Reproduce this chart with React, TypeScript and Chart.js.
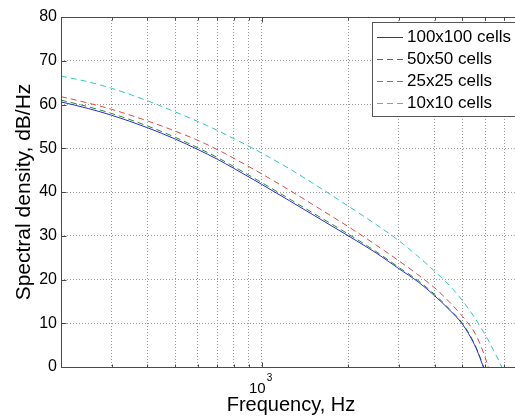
import React, { useEffect, useRef } from "react";
import { Chart, registerables } from "chart.js";

Chart.register(...registerables);

const FREQS = [200, 250, 300, 400, 500, 600, 700, 800, 1000, 1250, 1500, 2000, 2500, 3000, 3500, 4000, 4500, 5000, 5500, 5750, 6000, 6250, 6500, 6750, 7000];
const SERIES_LABELS = ["100x100 cells", "50x50 cells", "25x25 cells", "10x10 cells"];
const CELLS_100 = [60.6, 59.05, 57.55, 54.7, 52.1, 49.7, 47.5, 45.4, 41.75, 38.0, 34.9, 30.0, 26.1, 22.5, 19.5, 16.3, 13.1, 9.8, 5.2, 2.2, -1.2];
const CELLS_50 = [61.0, 59.45, 57.95, 55.1, 52.5, 50.1, 47.9, 45.8, 42.15, 38.4, 35.3, 30.4, 26.4, 22.8, 19.8, 16.6, 13.3, 10.0, 5.4, 2.4, -1.0];
const CELLS_25 = [61.8, 60.3, 58.9, 56.25, 53.9, 51.8, 49.7, 47.7, 44.15, 40.4, 37.2, 32.1, 27.9, 24.3, 21.1, 18.1, 14.9, 11.6, 8.0, 5.4, 2.2, -1.4];
const CELLS_10 = [66.5, 65.15, 63.7, 60.85, 58.3, 56.1, 54.1, 52.2, 48.9, 45.3, 42.1, 36.8, 32.6, 28.9, 25.3, 21.9, 18.7, 15.2, 11.4, 9.4, 7.4, 5.3, 3.1, 1.0, -1.5];
const X_TICKS = [200, 300, 400, 500, 600, 700, 800, 900, 1000, 2000, 3000, 4000, 5000, 6000, 7000, 8000];
const X_MIN = 200;
const X_MAX = 8000;
const Y_MIN = 0;
const Y_MAX = 80;
const Y_STEP = 10;

const COLORS = ["#2a2ad8", "#22902a", "#e24a4a", "#34c6c6"];
const DASHES: number[][] = [[], [6, 4], [6, 4], [6, 4]];
const FONT = '"Liberation Sans", Arial, sans-serif';
const AXIS_COLOR = "#4a4a4a";

const decorPlugin = {
  id: "decor",
  afterDatasetsDraw(chart: any) {
    const { ctx, chartArea: a, scales } = chart;
    const xs = scales.x;
    const ys = scales.y;
    ctx.save();
    ctx.setLineDash([]);
    ctx.strokeStyle = AXIS_COLOR;
    ctx.lineWidth = 1;
    const line = (x1: number, y1: number, x2: number, y2: number) => {
      ctx.beginPath();
      ctx.moveTo(x1, y1);
      ctx.lineTo(x2, y2);
      ctx.stroke();
    };
    const L = Math.round(a.left) + 0.5;
    const T = Math.round(a.top) + 0.5;
    const B = Math.round(a.bottom) + 0.5;
    const R = Math.round(a.right) + 0.5;
    // axes box
    line(L, T, R, T);
    line(L, B, R, B);
    line(L, T, L, B);
    line(R, T, R, B);
    // inside tick marks
    for (const t of ys.ticks) {
      const py = Math.round(ys.getPixelForValue(t.value)) + 0.5;
      line(L, py, L + 5, py);
      line(R, py, R - 5, py);
    }
    for (const t of xs.ticks) {
      const px = Math.round(xs.getPixelForValue(t.value)) + 0.5;
      const len = t.value === 1000 ? 5 : 3;
      line(px, B, px, B - len);
      line(px, T, px, T + len);
    }
    // 10^3 label
    const p1000 = xs.getPixelForValue(1000);
    ctx.fillStyle = "#000";
    ctx.textBaseline = "alphabetic";
    ctx.font = `15px ${FONT}`;
    ctx.textAlign = "right";
    ctx.fillText("10", p1000 + 4, a.bottom + 26);
    ctx.font = `10px ${FONT}`;
    ctx.textAlign = "left";
    ctx.fillText("3", p1000 + 5, a.bottom + 14);
    // legend
    const lx = a.right - 149;
    const ly = a.top + 5;
    ctx.fillStyle = "#fff";
    ctx.fillRect(lx, ly, 200, 94);
    ctx.strokeStyle = "#555";
    ctx.strokeRect(Math.round(lx) + 0.5, Math.round(ly) + 0.5, 200, 94);
    ctx.font = `17px ${FONT}`;
    ctx.textBaseline = "middle";
    ctx.textAlign = "left";
    SERIES_LABELS.forEach((label, i) => {
      const cy = Math.round(ly + 15 + i * 22) + 0.5;
      ctx.strokeStyle = COLORS[i];
      ctx.setLineDash(DASHES[i]);
      line(lx + 5, cy, lx + 31, cy);
      ctx.setLineDash([]);
      ctx.fillStyle = "#000";
      ctx.fillText(label, lx + 35, cy);
    });
    ctx.restore();
  },
};

export default function App() {
  const ref = useRef<HTMLCanvasElement | null>(null);
  useEffect(() => {
    if (!ref.current) return;
    const seriesValues = [CELLS_100, CELLS_50, CELLS_25, CELLS_10];
    const chart = new Chart(ref.current, {
      type: "line",
      data: {
        datasets: seriesValues.map((vals, i) => ({
          label: SERIES_LABELS[i],
          data: vals.map((v, k) => ({ x: FREQS[k], y: v })),
          borderColor: COLORS[i],
          backgroundColor: COLORS[i],
          borderDash: DASHES[i],
          borderWidth: 1,
          pointRadius: 0,
          fill: false,
          cubicInterpolationMode: "monotone" as const,
        })),
      },
      options: {
        animation: false,
        responsive: false,
        devicePixelRatio: 1,
        layout: { padding: { top: 17, right: 9, left: 0, bottom: 0 } },
        plugins: { legend: { display: false }, tooltip: { enabled: false } },
        scales: {
          x: {
            type: "logarithmic",
            min: X_MIN,
            max: X_MAX,
            afterBuildTicks: (scale: any) => {
              scale.ticks = X_TICKS.map((v) => ({ value: v, major: v === 1000 }));
            },
            afterFit: (scale: any) => {
              scale.height = 50;
            },
            ticks: { display: false },
            grid: { color: "#9a9a9a", drawTicks: false, lineWidth: 1 },
            border: { display: false, dash: [1, 2] },
            title: {
              display: true,
              text: "Frequency, Hz",
              color: "#000",
              font: { family: FONT, size: 20 },
              padding: { top: 0, bottom: 0 },
            },
          },
          y: {
            type: "linear",
            min: Y_MIN,
            max: Y_MAX,
            afterFit: (scale: any) => {
              scale.width = 61;
            },
            ticks: {
              stepSize: Y_STEP,
              color: "#000",
              padding: 4,
              font: { family: FONT, size: 16 },
            },
            grid: { color: "#9a9a9a", drawTicks: false, lineWidth: 1 },
            border: { display: false, dash: [1, 2] },
            title: {
              display: true,
              text: "Spectral density, dB/Hz",
              color: "#000",
              font: { family: FONT, size: 21 },
              padding: { top: 12, bottom: 0 },
            },
          },
        },
      },
      plugins: [decorPlugin],
    });
    return () => chart.destroy();
  }, []);
  return (
    <div
      style={{
        position: "fixed",
        left: 0,
        top: 0,
        width: 515,
        height: 417,
        overflow: "hidden",
        background: "#fff",
      }}
    >
      <canvas ref={ref} width={530} height={417} style={{ display: "block" }} />
    </div>
  );
}
